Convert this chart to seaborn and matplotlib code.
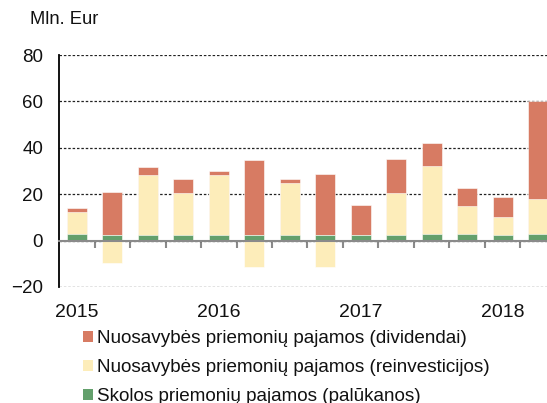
import numpy as np
import pandas as pd
import seaborn as sns
import matplotlib.pyplot as plt
import matplotlib.transforms as mtransforms
from matplotlib.patches import Patch

# ketvirčiai 2015 Q1 - 2018 Q2
quarters = ['2015 Q1', '2015 Q2', '2015 Q3', '2015 Q4',
            '2016 Q1', '2016 Q2', '2016 Q3', '2016 Q4',
            '2017 Q1', '2017 Q2', '2017 Q3', '2017 Q4',
            '2018 Q1', '2018 Q2']
palukanos = [2.7, 2.6, 2.4, 2.6, 2.3, 2.6, 2.4, 2.4, 2.6, 2.6, 2.9, 2.9, 2.3, 2.9]
reinvesticijos = [9.7, -9.6, 26.0, 17.8, 26.1, -11.6, 22.3, -11.6, 0.0, 17.7, 29.4, 11.9, 7.8, 14.9]
dividendai = [1.7, 18.2, 3.4, 6.3, 1.6, 32.3, 2.0, 26.3, 12.8, 14.9, 9.7, 8.0, 8.7, 42.4]
year_labels = ['2015', '2016', '2017', '2018']
series_labels = ['Nuosavybės priemonių pajamos (dividendai)',
                 'Nuosavybės priemonių pajamos (reinvesticijos)',
                 'Skolos priemonių pajamos (palūkanos)']

c_div = '#D77B63'
c_rei = '#FDEDBA'
c_pal = '#63A06C'

sns.set_theme(style='white')
plt.rcParams['font.family'] = ['Liberation Sans', 'DejaVu Sans']

df = pd.DataFrame({'q': quarters, 'pal': palukanos, 'rei': reinvesticijos, 'div': dividendai})
pos = df['pal'] + df['rei'].clip(lower=0)
df['top_div'] = pos + df['div']
df['top_rei'] = pos
df['neg_rei'] = df['rei'].clip(upper=0)

fig = plt.figure(figsize=(5.47, 4.03), dpi=100)
ax = fig.add_axes([0.108, 0.288, 0.892, 0.5755])

w = 0.57
# sluoksniai: viršutinė dalis pirmiau, paskui uždengiama
sns.barplot(data=df, x='q', y='top_div', color=c_div, width=w, saturation=1, ax=ax,
            edgecolor='white', linewidth=0.4)
sns.barplot(data=df, x='q', y='top_rei', color=c_rei, width=w, saturation=1, ax=ax,
            edgecolor='white', linewidth=0.4)
sns.barplot(data=df, x='q', y='neg_rei', color=c_rei, width=w, saturation=1, ax=ax,
            edgecolor='white', linewidth=0.4)
sns.barplot(data=df, x='q', y='pal', color=c_pal, width=w, saturation=1, ax=ax,
            edgecolor='white', linewidth=0.4)

ax.set_xlim(-0.5, 13.25)
ax.set_ylim(-20, 80)
ax.set_yticks([-20, 0, 20, 40, 60, 80])
ax.set_xlabel('')
ax.set_ylabel('')

# dotted gridlines
ax.yaxis.grid(True, linestyle=(0, (2, 1.5)), color='#222222', linewidth=0.9)
ax.set_axisbelow(True)

for s in ['top', 'right']:
    ax.spines[s].set_visible(False)
ax.spines['left'].set_color('black')
ax.spines['left'].set_linewidth(1.3)
ax.spines['bottom'].set_position(('data', 0))
ax.spines['bottom'].set_color('#8a8a8a')
ax.spines['bottom'].set_linewidth(1.5)
ax.spines['bottom'].set_zorder(5)

ax.set_xticks(np.arange(0.5, 13, 1))
ax.set_xticklabels([])
ax.tick_params(axis='x', bottom=True, direction='out', length=5, width=1.5, color='#8a8a8a')
ax.tick_params(axis='y', left=False, length=0, pad=11.5, labelsize=13.5, labelcolor='#111111')

trans = mtransforms.blended_transform_factory(ax.transData, ax.transAxes)
for i, lab in enumerate(year_labels):
    ax.text(i * 4, -0.075, lab, transform=trans, ha='center', va='top',
            fontsize=14, color='#111111')

fig.text(30 / 547, 1 - 20 / 403, 'Mln. Eur', ha='left', va='center', fontsize=13.2, color='#111111')

handles = [Patch(facecolor=c, edgecolor='none') for c in [c_div, c_rei, c_pal]]
fig.legend(handles, series_labels, loc='upper left', bbox_to_anchor=(83 / 547, 1 - 330 / 403),
           frameon=False, fontsize=13.6, handlelength=0.53, handleheight=0.53,
           handletextpad=0.21, labelspacing=0.64, borderaxespad=0, borderpad=0,
           labelcolor='#111111')

fig.savefig('out.png', dpi=100)
